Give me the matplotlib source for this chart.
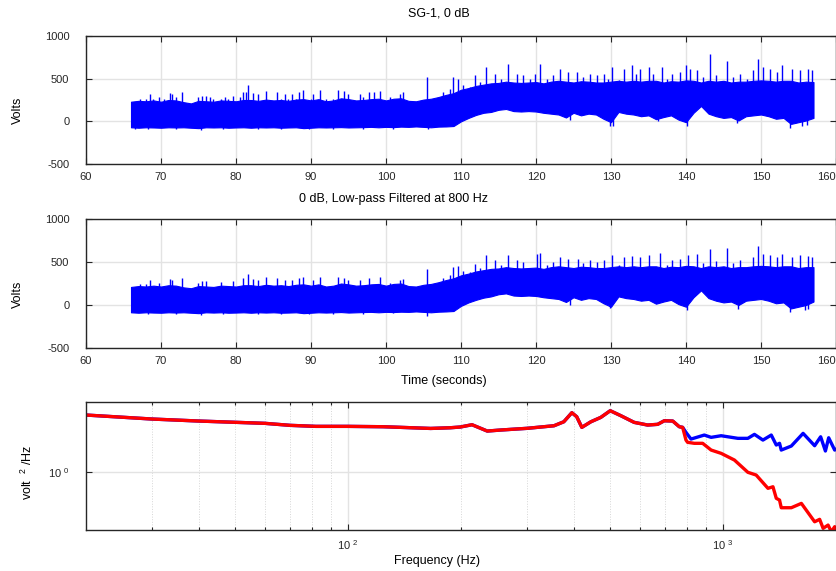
import matplotlib
matplotlib.use('Agg')
import matplotlib.pyplot as plt
import numpy as np
from matplotlib.ticker import FixedLocator, FixedFormatter, NullLocator

plt.rcParams['font.family'] = ['Liberation Sans', 'DejaVu Sans']
plt.rcParams['mathtext.fontset'] = 'custom'
plt.rcParams['mathtext.rm'] = 'Liberation Sans'
plt.rcParams['mathtext.it'] = 'Liberation Sans'
plt.rcParams['axes.unicode_minus'] = False

# --- time signals: envelope per second (66 s .. 157 s) ---
t_start, t_end = 66, 157

top_upper = [230, 240, 235, 245,
             230, 250, 245, 225, 210, 240, 235, 230, 245, 240,
             235, 250, 250, 240, 255, 245, 250, 240, 255, 260,
             245, 260, 235, 245, 270, 260, 245, 250, 260, 265,
             245, 265, 270, 240, 235, 255, 265, 285, 310, 330,
             370, 390, 415, 430, 445, 450, 465, 455, 450, 455,
             460, 445, 465, 475, 465, 455, 470, 465, 455, 455,
             465, 475, 465, 475, 465, 475, 475, 455, 470, 465,
             480, 475, 455, 475, 465, 475, 455, 465, 465, 475,
             480, 475, 465, 475, 475, 455, 465, 460]
top_lower = [-70, -75, -70, -72,
             -75, -70, -72, -70, -75, -80, -70, -72, -70, -75,
             -72, -70, -75, -70, -72, -70, -75, -72, -70, -80,
             -75, -70, -72, -70, -68, -72, -70, -68, -65, -70,
             -65, -68, -62, -65, -60, -65, -70, -62, -60, -55,
             0, 40, 75, 100, 110, 135, 145, 120, 115, 120,
             115, 100, 90, 80, 45, 100, 70, 90, 80, 30,
             -10, 110, 90, 80, 60, 70, 25, 50, 70, 20,
             -10, 100, 180, 90, 60, 40, 50, 10, 60, 70,
             80, 60, 30, 40, -30, -10, 10, 40]
top_spike_t = [67.2, 68, 68.5, 69, 69.8, 70.4, 71.2, 71.4, 72, 72.8, 75, 75.5,
               76, 76.5, 77, 78, 78.5, 79, 79.6, 80.5, 81, 81.3, 81.6, 82.2,
               83, 84, 85.4, 86, 86.5, 87, 87.4, 88, 88.4, 89, 90, 90.3,
               91.2, 92, 93, 93.6, 94.4, 95, 96.5, 97, 97.8, 98.4, 99.2,
               100.5, 101.9, 102.3, 105.5, 107.6, 108.5, 108.9, 109.6,
               110.3, 111.2, 111.9, 112.5, 113.4, 114.5, 115.4, 116.3, 117.4,
               118.3, 119.2, 119.9, 120.5, 121.4, 122.3, 123.2, 124.3, 125.4,
               126.3, 127.2, 128.1, 129.0, 129.6, 130.1, 131, 131.7, 132.8,
               133.3, 133.9, 135, 135.6, 136.8, 137.5, 138.1, 139.2, 140,
               140.5, 141.4, 142.3, 143.2, 144, 145.4, 146.3, 147.2, 148.1,
               149, 149.6, 150.3, 151.2, 152.1, 152.8, 154.1, 155.2, 156.3,
               156.8]
top_spike_v = [262, 262, 321, 262, 282, 262, 333, 321, 282, 349, 282, 300,
               302, 282, 262, 262, 282, 262, 302, 282, 341, 349, 429, 330,
               321, 361, 341, 262, 320, 262, 321, 262, 341, 373, 262, 321,
               373, 262, 262, 370, 350, 321, 320, 282, 341, 341, 361,
               282, 321, 341, 520, 341, 381, 520, 500,
               421, 401, 540, 460, 639, 560, 500, 667, 560,
               540, 500, 560, 667, 500, 540, 619, 579, 579,
               520, 560, 540, 560, 500, 639, 488, 619, 659,
               560, 619, 639, 560, 639, 500, 560, 579, 659,
               619, 600, 520, 786, 540, 706, 520, 560, 500,
               600, 726, 639, 619, 579, 659, 619, 600, 619,
               600]
top_dip_t = [66.6, 68.2, 72, 75.3, 78.3, 83, 86, 89.7, 93, 97, 101, 105.6,
             124.5, 129.9, 130.3, 136.3, 140.1, 146.8, 153.9, 155.4, 156.2]
top_dip_v = [-90, -92, -90, -100, -92, -90, -95, -95, -90, -88, -85, -85,
             10, -50, -60, 0, -60, -20, -75, -50, -40]

mid_upper = [210, 220, 215, 225,
             215, 230, 225, 205, 195, 220, 215, 210, 225, 220,
             215, 230, 230, 220, 235, 225, 230, 220, 235, 240,
             225, 240, 215, 225, 250, 240, 225, 230, 240, 245,
             225, 245, 250, 220, 215, 235, 245, 265, 290, 310,
             345, 365, 390, 405, 420, 425, 440, 430, 425, 430,
             435, 420, 440, 450, 440, 430, 445, 440, 430, 430,
             440, 450, 440, 450, 440, 450, 450, 430, 445, 440,
             455, 450, 430, 450, 440, 450, 430, 440, 440, 450,
             455, 450, 440, 450, 450, 430, 440, 440]
mid_lower = [-85, -90, -85, -88,
             -90, -85, -88, -85, -90, -95, -85, -88, -85, -90,
             -88, -85, -90, -85, -88, -85, -90, -88, -85, -95,
             -90, -85, -88, -85, -82, -88, -85, -82, -80, -85,
             -80, -82, -78, -80, -75, -80, -85, -78, -75, -70,
             -10, 30, 60, 85, 100, 125, 135, 110, 105, 110,
             105, 90, 80, 70, 35, 90, 60, 80, 70, 20,
             -20, 100, 80, 70, 50, 60, 15, 40, 60, 10,
             -20, 90, 170, 80, 50, 30, 40, 0, 50, 60,
             70, 50, 20, 30, -40, -20, 0, 40]
mid_spike_t = [67.2, 68, 68.5, 69.8, 71.2, 71.4, 72.8, 75, 75.5, 76, 78, 79.6,
               81, 81.6, 82.2, 83, 84, 85.4, 86.5, 87.4, 88.4, 89, 90.3,
               91.2, 93.6, 94.4, 95, 96.5, 97.8, 99.2, 100.5, 101.9, 102.3,
               105.5, 107.6, 108.5, 108.9, 109.6, 110.3, 111.2, 111.9, 112.5,
               113.4, 114.5, 115.4, 116.3, 117.4, 118.3, 120.1, 120.5, 121.4,
               122.3, 123.2, 124.3, 125.6, 126.3, 127.2, 128.1, 129.0, 130.1,
               131, 131.7, 132.8, 133.9, 135, 136.5, 137.5, 138.1, 139.2,
               140.3, 141.4, 142.3, 143.2, 144, 145.5, 146.3, 147.2, 149,
               149.6, 150.3, 151.2, 152.1, 152.8, 154.1, 155.2, 156.3, 156.8]
mid_spike_v = [240, 240, 290, 260, 300, 290, 310, 260, 280, 280, 270, 280,
               310, 357, 300, 290, 320, 310, 290, 290, 310, 330, 290,
               320, 330, 310, 290, 290, 310, 320, 260, 290, 300,
               423, 310, 353, 442, 449, 390, 380, 481, 430,
               578, 520, 470, 585, 520, 500, 597, 605, 470,
               500, 558, 540, 539, 490, 520, 500, 520, 578,
               470, 560, 570, 560, 578, 608, 470, 520, 540,
               578, 590, 490, 655, 510, 663, 490, 520, 560,
               686, 590, 580, 560, 590, 560, 578, 570, 560]
mid_dip_t = [68.2, 72, 75.3, 78.3, 83, 86, 89.7, 93, 97, 101, 105.5,
             124.5, 129.9, 140.1, 147, 153.9, 155.8, 156.3]
mid_dip_v = [-105, -102, -115, -105, -102, -108, -110, -104, -100, -98, -128,
             0, -40, -62, -50, -81, -62, -45]

# --- power spectral density ---
freq_common = [20, 30, 40, 60, 70, 82, 100, 124, 138, 166, 187, 199, 214, 235,
               255, 300, 354, 376, 395, 407, 420, 444, 472, 500, 534, 579, 629,
               669, 697, 734, 764, 780]
psd_common = [1.928, 1.841, 1.799, 1.752, 1.712, 1.692, 1.692, 1.685, 1.673,
              1.652, 1.665, 1.679, 1.724, 1.603, 1.622, 1.654, 1.704, 1.784,
              1.980, 1.891, 1.673, 1.784, 1.877, 2.026, 1.912, 1.772, 1.718,
              1.732, 1.805, 1.799, 1.685, 1.673]
freq_raw_tail = [796, 821, 891, 929, 988, 1095, 1164, 1212, 1277, 1344, 1386,
                 1414, 1429, 1520, 1634, 1754, 1820, 1874, 1912, 1984, 2018]
psd_raw_tail = [1.579, 1.462, 1.531, 1.491, 1.519, 1.474, 1.474, 1.543, 1.445,
                1.531, 1.365, 1.392, 1.288, 1.349, 1.561, 1.354, 1.501, 1.274,
                1.484, 1.288, 1.314]
freq_filt_tail = [796, 804, 838, 882, 929, 988, 1072, 1164, 1225, 1317, 1358,
                  1386, 1414, 1429, 1520, 1617, 1754, 1809, 1848, 1905, 1944,
                  1984, 2018]
psd_filt_tail = [1.445, 1.408, 1.392, 1.392, 1.288, 1.240, 1.148, 0.997, 0.966,
                 0.829, 0.844, 0.739, 0.724, 0.663, 0.663, 0.697, 0.564, 0.580,
                 0.523, 0.543, 0.503, 0.533, 0.49]

W, H = 837, 571
fig = plt.figure(figsize=(W / 100, H / 100), dpi=100)
dark = '#262626'
grid_c = '#e3e3e3'


def box(top, bottom):
    return [86 / W, 1 - bottom / H, 750 / W, (bottom - top) / H]


def style(ax):
    for s in ax.spines.values():
        s.set_color(dark)
        s.set_linewidth(1.0)
    ax.tick_params(which='both', direction='in', top=True, right=True,
                   colors=dark, labelsize=8, length=4, width=0.8)
    ax.set_axisbelow(True)


def noise_panel(ax, upper, lower, st, sv, dt, dv):
    t = np.arange(t_start, t_end + 1)
    ax.fill_between(t, lower, upper, color='blue', lw=0.8)
    ax.vlines(st, 200, sv, color='blue', lw=1.0)
    ax.vlines(dt, 100, dv, color='blue', lw=1.0)
    ax.set_xlim(60, 160)
    ax.set_ylim(-500, 1000)
    ax.set_xticks(np.arange(60, 161, 10))
    ax.set_yticks([-500, 0, 500, 1000])
    ax.grid(True, color=grid_c, lw=1.0)
    style(ax)
    ax.tick_params(axis='y', pad=12)
    ax.tick_params(axis='x', pad=6)
    ax.get_xticklabels()[-1].set_horizontalalignment('right')


ax1 = fig.add_axes(box(36, 164))
noise_panel(ax1, top_upper, top_lower, top_spike_t, top_spike_v, top_dip_t, top_dip_v)
ax2 = fig.add_axes(box(219, 348))
noise_panel(ax2, mid_upper, mid_lower, mid_spike_t, mid_spike_v, mid_dip_t, mid_dip_v)

fig.text(439 / W, 1 - 13 / H, 'SG-1, 0 dB', ha='center', va='center', fontsize=9)
fig.text(394 / W, 1 - 199 / H, '0 dB, Low-pass Filtered at 800 Hz',
         ha='center', va='center', fontsize=9)
fig.text(444 / W, 1 - 381 / H, 'Time (seconds)', ha='center', va='center', fontsize=9)
fig.text(18 / W, 1 - 110 / H, 'Volts', rotation=90, ha='center', va='center', fontsize=9)
fig.text(18 / W, 1 - 294 / H, 'Volts', rotation=90, ha='center', va='center', fontsize=9)

ax3 = fig.add_axes(box(402, 530))
ax3.set_xscale('log')
ax3.set_yscale('log')
ax3.plot(freq_common + freq_raw_tail, psd_common + psd_raw_tail, color='blue', lw=2.4)
ax3.plot(freq_common + freq_filt_tail, psd_common + psd_filt_tail, color='red', lw=2.4)
ax3.set_xlim(20, 2000)
ax3.set_ylim(0.513, 2.24)
ax3.xaxis.set_major_locator(FixedLocator([100, 1000]))
ax3.xaxis.set_major_formatter(FixedFormatter(['10 $^{2}$', '10 $^{3}$']))
ax3.xaxis.set_minor_locator(FixedLocator([30, 40, 50, 60, 70, 80, 90,
                                          200, 300, 400, 500, 600, 700, 800, 900]))
ax3.yaxis.set_major_locator(FixedLocator([1]))
ax3.yaxis.set_major_formatter(FixedFormatter(['10 $^{0}$']))
ax3.yaxis.set_minor_locator(NullLocator())
ax3.grid(True, which='major', color=grid_c, lw=1.0)
ax3.grid(True, which='minor', axis='x', color='#d6d6d6', lw=0.7, ls=':')
style(ax3)
ax3.tick_params(which='minor', length=2.5)
ax3.tick_params(axis='y', pad=12)
ax3.tick_params(axis='x', pad=6)

fig.text(437 / W, 1 - 561 / H, 'Frequency (Hz)', ha='center', va='center', fontsize=9)
fig.text(27 / W, 1 - 472 / H, 'volt  $^{2}$ /Hz', rotation=90, ha='center',
         va='center', fontsize=9)

fig.savefig('out.png', dpi=100)
